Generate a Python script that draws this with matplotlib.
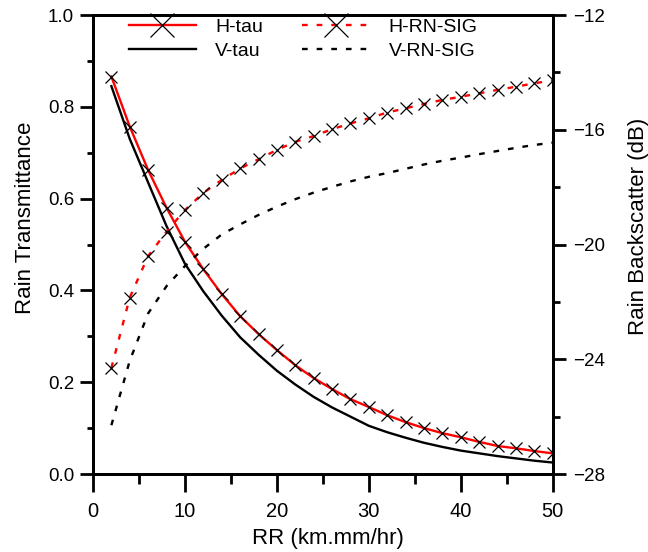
import matplotlib
matplotlib.use("Agg")
import matplotlib.pyplot as plt
from matplotlib.ticker import MultipleLocator, FormatStrFormatter

plt.rcParams['font.family'] = ['Liberation Sans', 'DejaVu Sans']

rr = [2, 4, 6, 8, 10, 12, 14, 16, 18, 20, 22, 24, 26, 28, 30,
      32, 34, 36, 38, 40, 42, 44, 46, 48, 50]
h_tau = [0.866, 0.757, 0.662, 0.580, 0.506, 0.446, 0.392, 0.344, 0.305, 0.270,
         0.237, 0.209, 0.185, 0.163, 0.146, 0.128, 0.113, 0.100, 0.089, 0.080,
         0.070, 0.061, 0.056, 0.050, 0.045]
v_tau = [0.845, 0.730, 0.635, 0.540, 0.458, 0.398, 0.345, 0.298, 0.260, 0.225,
         0.195, 0.168, 0.145, 0.125, 0.105, 0.091, 0.079, 0.068, 0.059, 0.051,
         0.045, 0.039, 0.034, 0.029, 0.025]
h_sig = [-24.30, -21.85, -20.40, -19.55, -18.80, -18.20, -17.75, -17.35, -17.03, -16.70,
         -16.42, -16.22, -15.98, -15.78, -15.60, -15.40, -15.25, -15.10, -14.96, -14.85,
         -14.73, -14.61, -14.50, -14.38, -14.28]
v_sig = [-26.30, -24.05, -22.40, -21.45, -20.75, -20.15, -19.65, -19.30, -18.97, -18.68,
         -18.42, -18.19, -17.99, -17.80, -17.64, -17.51, -17.36, -17.21, -17.08, -16.97,
         -16.85, -16.74, -16.63, -16.53, -16.45]
labels = ['H-tau', 'V-tau', 'H-RN-SIG', 'V-RN-SIG']

fig = plt.figure(figsize=(6.48, 5.52), dpi=100)
ax = fig.add_axes([0.1435, 0.1413, 0.7095, 0.8315])
ax2 = ax.twinx()

lw = 1.7
dash = (2.4, 3.8)
l1, = ax.plot(rr, h_tau, color='red', lw=lw, marker='x', ms=8.5, mew=0.9,
              mec='black', label=labels[0])
l2, = ax.plot(rr, v_tau, color='black', lw=lw, label=labels[1])
l3, = ax2.plot(rr, h_sig, color='red', lw=lw, dashes=dash, marker='x', ms=8.5,
               mew=0.9, mec='black', label=labels[2])
l4, = ax2.plot(rr, v_sig, color='black', lw=lw, dashes=dash, label=labels[3])

ax.set_xlim(0, 50)
ax.set_ylim(0, 1.0)
ax2.set_ylim(-28, -12)

ax.xaxis.set_major_locator(MultipleLocator(10))
ax.xaxis.set_minor_locator(MultipleLocator(5))
ax.yaxis.set_major_locator(MultipleLocator(0.2))
ax.yaxis.set_minor_locator(MultipleLocator(0.1))
ax2.yaxis.set_major_locator(MultipleLocator(4))
ax2.yaxis.set_minor_locator(MultipleLocator(2))
ax.yaxis.set_major_formatter(FormatStrFormatter('%.1f'))

for a in (ax, ax2):
    for s in a.spines.values():
        s.set_linewidth(2.0)

ax.tick_params(axis='x', which='major', direction='out', length=13, width=2,
               labelsize=14.5, pad=7)
ax.tick_params(axis='x', which='minor', direction='out', length=7, width=2)
ax.tick_params(axis='y', which='major', direction='out', length=9.5, width=2,
               labelsize=13.5, pad=4)
ax.tick_params(axis='y', which='minor', direction='out', length=4, width=2)
ax2.tick_params(axis='y', which='major', direction='out', length=9, width=2,
                labelsize=13.5, pad=6)
ax2.tick_params(axis='y', which='minor', direction='out', length=5, width=2)

ax.set_xlabel('RR (km.mm/hr)', fontsize=16)
ax.set_ylabel('Rain Transmittance', fontsize=16)
ax2.set_ylabel('Rain Backscatter (dB)', fontsize=16)
ax.xaxis.set_label_coords(0.51, -0.118)
ax.yaxis.set_label_coords(-0.124, 0.558)
ax2.yaxis.set_label_coords(1.163, 0.540)

leg = ax.legend([l1, l2, l3, l4], labels,
                ncol=2, loc='upper left', bbox_to_anchor=(0.078, 0.9935), frameon=False,
                fontsize=14, handlelength=3.45, handletextpad=1.0, columnspacing=2.0,
                labelspacing=0.35, markerscale=2.0, borderpad=0, borderaxespad=0)

fig.savefig('out.png', dpi=100)
